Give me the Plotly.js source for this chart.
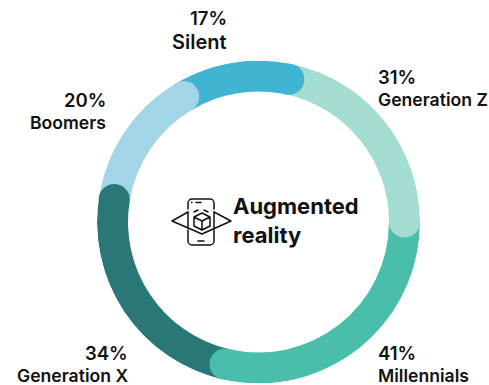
<!DOCTYPE html>
<html><head><meta charset="utf-8">
<script src="https://cdn.plot.ly/plotly-3.0.1.min.js"></script>
<style>html,body{margin:0;padding:0;background:#fff}#c{width:489px;height:385px}</style></head>
<body><div id="c"></div>
<script>
const categories = ["Generation Z","Millennials","Generation X","Boomers","Silent"];
const values = [31,41,34,20,17];
const colors = ["#a3dcd1","#49bfab","#297877","#a2d6e7","#41b3d3"];
const startAngle = 12;
const W=489,H=385,cx=258.5,cy=222,R=161.5,thick=31;
const total = values.reduce((a,b)=>a+b,0);
let acc = startAngle; const starts=[],ends=[],mids=[],widths=[];
values.forEach(v=>{const w=v/total*360;starts.push(acc);widths.push(w);mids.push(acc+w/2);acc+=w;ends.push(acc);});
const inner=1-thick/R, mid=1-thick/R/2;

const bars={type:"barpolar",r:values.map(()=>1-inner),base:values.map(()=>inner),theta:mids,width:widths,
  marker:{color:colors,line:{width:0}},hoverinfo:"skip",showlegend:false};
const caps={type:"scatterpolar",mode:"markers",r:values.map(()=>mid),theta:ends,
  marker:{color:colors,size:thick,line:{width:0}},hoverinfo:"skip",showlegend:false,cliponaxis:false};

// label anchor: [x, y of value line, y of name line, xanchor]
const labelPos=[[376,77,100,"left"],[376,353,375,"left"],[130,353,375,"right"],[108,100,122,"right"],[229,18,42,"right"]];
const annotations=[];
categories.forEach((c,i)=>{const p=labelPos[i];
  annotations.push({text:values[i]+"%",x:p[0]/W,y:1-p[1]/H,xref:"paper",yref:"paper",xanchor:p[3],yanchor:"middle",showarrow:false,
    font:{family:"Inter",size:18.5,color:"#111",weight:600},align:p[3]});
  annotations.push({text:c,x:p[0]/W,y:1-p[2]/H,xref:"paper",yref:"paper",xanchor:p[3],yanchor:"middle",showarrow:false,
    font:{family:"Inter",size:c==="Silent"?20:17.6,color:"#111",weight:600},align:p[3]});
});
annotations.push({text:"Augmented<br>reality",x:231/W,y:1-220/H,xref:"paper",yref:"paper",xanchor:"left",yanchor:"middle",align:"left",showarrow:false,
  font:{family:"Inter",size:22,color:"#111",weight:700}});

const icon=`<svg xmlns="http://www.w3.org/2000/svg" width="64" height="50" viewBox="0 0 64 50"><g fill="none" stroke="#111" stroke-width="1.5" stroke-linejoin="round" stroke-linecap="round"><path d="M18 11V5a4 4 0 0 1 4-4h18a4 4 0 0 1 4 4v6M44 32v11a4 4 0 0 1-4 4H22a4 4 0 0 1-4-4V32"/><path d="M18 14L2 23L32 36L61 23L44 14" /><path d="M18 14V30M44 14V30"/><path d="M26 4.500h5M28 43h6M21.500 4.500h.5"/><path d="M24 14l4-2M34 12l4 2" /><path d="M32 15l8 4v9l-8 4l-8-4v-9zM24 19l8 4l8-4M32 23v9"/></g></svg>`;

const layout={width:W,height:H,margin:{l:0,r:0,t:0,b:0},paper_bgcolor:"#fff",plot_bgcolor:"#fff",showlegend:false,
  polar:{domain:{x:[(cx-R)/W,(cx+R)/W],y:[1-(cy+R)/H,1-(cy-R)/H]},bgcolor:"rgba(0,0,0,0)",
    radialaxis:{visible:false,range:[0,1]},
    angularaxis:{visible:false,direction:"clockwise",rotation:90}},
  annotations,
  images:[{source:"data:image/svg+xml;base64,"+btoa(icon),xref:"paper",yref:"paper",x:170/W,y:1-198/H,sizex:64/W,sizey:50/H,xanchor:"left",yanchor:"top",sizing:"stretch",layer:"above"}]};
Plotly.newPlot("c",[bars,caps],layout,{displayModeBar:false,staticPlot:true});
</script></body></html>
